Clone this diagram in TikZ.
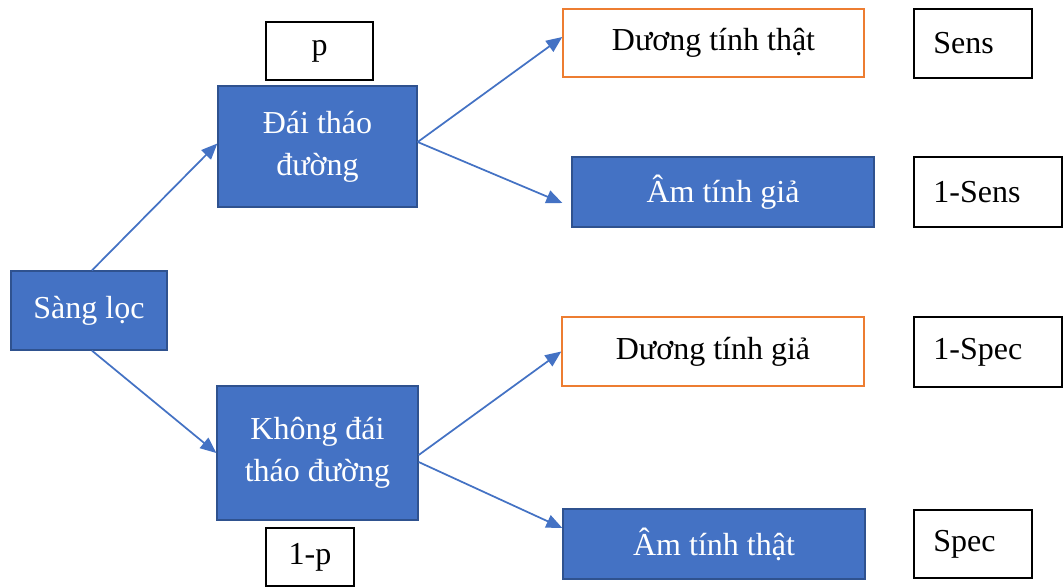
\documentclass[tikz,border=0pt]{standalone}
\usepackage{fontspec}
\setmainfont{Liberation Serif}
\usetikzlibrary{arrows.meta,calc}
\definecolor{boxblue}{HTML}{4472C4}
\definecolor{edgeblue}{HTML}{2F528F}
\definecolor{boxorange}{HTML}{ED7D31}
\tikzset{
  base/.style={rectangle, inner sep=0pt, font=\fontsize{24}{31.5}\selectfont, align=center},
  bluebox/.style={base, draw=edgeblue, fill=boxblue, text=white, line width=1pt},
  orangebox/.style={base, draw=boxorange, fill=white, text=black, line width=1.1pt},
  valbox/.style={base, draw=black, fill=white, text=black, line width=1.1pt},
  lvalbox/.style={valbox, align=left, inner xsep=14.5pt},
  link/.style={draw=boxblue, line width=1.3pt, -{Triangle[length=12pt,width=10pt]}}
}
\begin{document}
\begin{tikzpicture}[x=0.75pt,y=-0.75pt]
\useasboundingbox[fill=white] (0,0) rectangle (1063,587);

% root and first split
\node[bluebox, minimum width=117pt, minimum height=59.25pt] (sang) at (89,310.5) {Sàng lọc};
\node[bluebox, minimum width=149.25pt, minimum height=90.75pt] (dai) at (317.5,146.5) {Đái tháo\\đường};
\node[bluebox, minimum width=150.75pt, minimum height=100.5pt] (khong) at (317.5,453) {Không đái\\tháo đường};

% prevalence labels
\node[valbox, minimum width=80.25pt, minimum height=43.5pt] (p) at (319.5,51) {p};
\node[valbox, minimum width=66pt, minimum height=43.5pt] (onep) at (310,557) {1-p};

% test outcomes
\node[orangebox, minimum width=225.75pt, minimum height=51pt] (dtt) at (713.5,43) {Dương tính thật};
\node[bluebox, minimum width=226.5pt, minimum height=52.5pt] (atg) at (723,192) {Âm tính giả};
\node[orangebox, minimum width=226.5pt, minimum height=51.75pt] (dtg) at (713,351.5) {Dương tính giả};
\node[bluebox, minimum width=226.5pt, minimum height=52.5pt] (att) at (714,544) {Âm tính thật};

% probabilities
\node[lvalbox, text width=59.5pt, minimum height=51.75pt] (sens) at (973,43.5) {Sens};
\node[lvalbox, text width=82pt, minimum height=52.5pt] (onesens) at (988,192) {1-Sens};
\node[lvalbox, text width=82pt, minimum height=52.5pt] (onespec) at (988,352) {1-Spec};
\node[lvalbox, text width=59.5pt, minimum height=51pt] (spec) at (973,544) {Spec};

% free ends of the arrows
\coordinate (atgin) at ($(atg.west)+(-9,11)$);
\coordinate (attin) at ($(att.west)+(0,-16)$);

% connectors
\draw[link] ($(sang.north)+(3,0)$) -- ($(dai.west)+(0,-3)$);
\draw[link] ($(sang.south)+(3,0)$) -- (khong.west);
\draw[link] ($(dai.east)+(0,-4.5)$) -- ($(dtt.west)+(0,-6)$);
\draw[link] ($(dai.east)+(0,-4.5)$) -- (atgin);
\draw[link] ($(khong.east)+(0,2)$) -- (dtg.west);
\draw[link] ($(khong.east)+(0,9)$) -- (attin);
\end{tikzpicture}
\end{document}
